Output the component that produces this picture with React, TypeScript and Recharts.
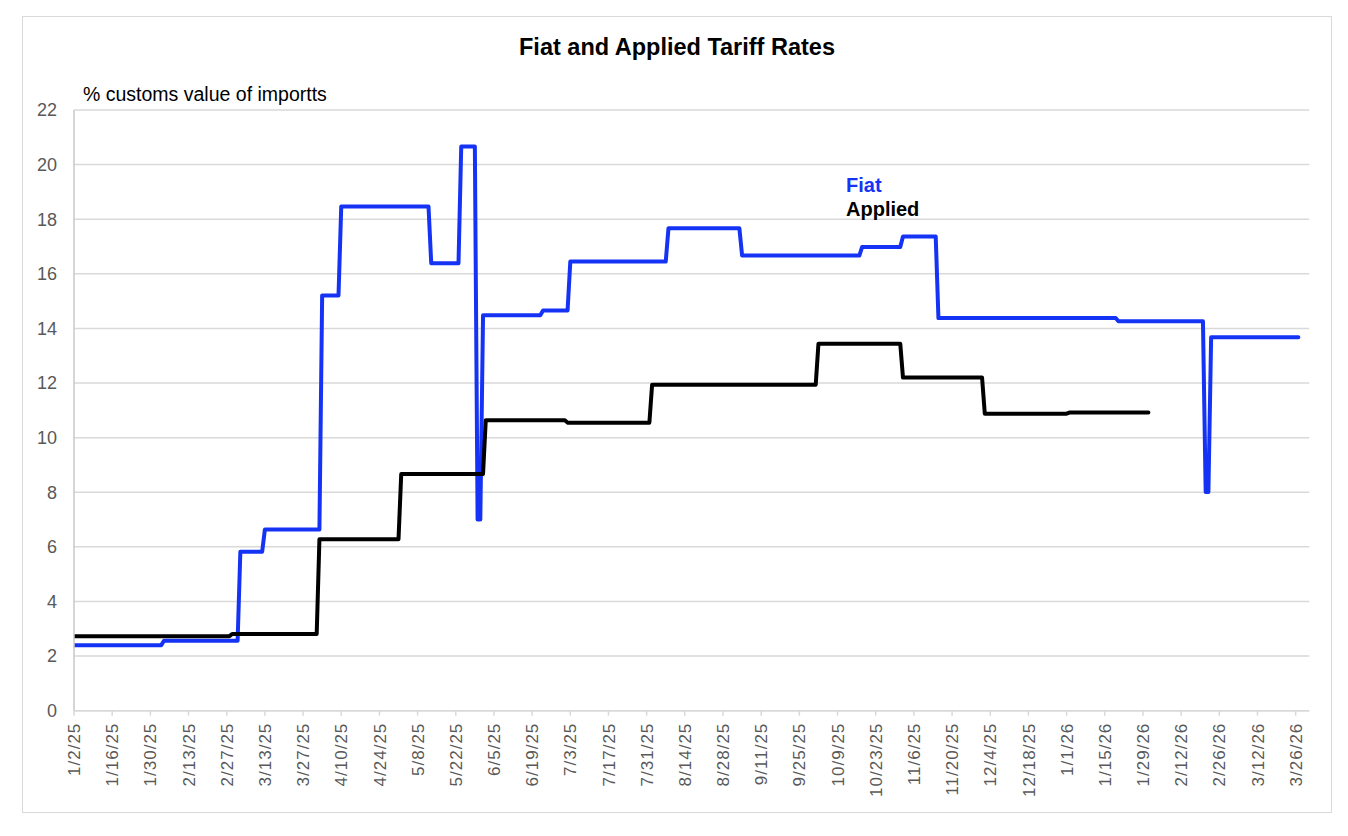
import React from "react";
import { LineChart, Line, XAxis, YAxis, CartesianGrid } from "recharts";

// Fiat tariff rate: dates where the rate changes, and the new rate (%)
const fiatDates = [
  "2025-01-02", "2025-02-04", "2025-03-04", "2025-03-13", "2025-04-03",
  "2025-04-10", "2025-05-13", "2025-05-24", "2025-05-30", "2025-06-01",
  "2025-06-23", "2025-07-03", "2025-08-08", "2025-09-04", "2025-10-18",
  "2025-11-02", "2025-11-15", "2026-01-20", "2026-02-21", "2026-02-23",
];
const fiatValues = [
  2.4, 2.56, 5.82, 6.64, 15.21,
  18.47, 16.39, 20.66, 7.0, 14.48,
  14.66, 16.45, 17.67, 16.67, 16.98,
  17.37, 14.38, 14.26, 8.01, 13.68,
];
const fiatEnd = "2026-03-27";

// Applied tariff rate
const appliedDates = [
  "2025-01-02", "2025-03-01", "2025-04-02", "2025-05-02", "2025-06-02",
  "2025-07-02", "2025-08-02", "2025-10-02", "2025-11-02", "2025-12-02",
  "2026-01-02",
];
const appliedValues = [
  2.73, 2.81, 6.28, 8.67, 10.64,
  10.55, 11.94, 13.44, 12.2, 10.88,
  10.92,
];
const appliedEnd = "2026-01-31";

const axisStart = "2025-01-02";
const axisEnd = "2026-03-31";
const tickStepDays = 14;
const yTicks = [0, 2, 4, 6, 8, 10, 12, 14, 16, 18, 20, 22];

const DAY = 86400000;
const toMs = (s: string) => {
  const [y, m, d] = s.split("-").map(Number);
  return Date.UTC(y, m - 1, d);
};
const base = toMs(axisStart);
const toDay = (s: string) => Math.round((toMs(s) - base) / DAY);
const fmt = (day: number) => {
  const dt = new Date(base + day * DAY);
  return `${dt.getUTCMonth() + 1}/${dt.getUTCDate()}/${String(dt.getUTCFullYear()).slice(2)}`;
};

// build daily step series (value holds until the day before the next change)
function stepPoints(dates: string[], values: number[], end: string) {
  const pts: { day: number; v: number }[] = [];
  dates.forEach((d, i) => {
    const day = toDay(d);
    if (i > 0) {
      const prev = pts[pts.length - 1];
      if (day - 1 > prev.day) pts.push({ day: day - 1, v: values[i - 1] });
    }
    pts.push({ day, v: values[i] });
  });
  pts.push({ day: toDay(end), v: values[values.length - 1] });
  return pts;
}

const fiatPts = stepPoints(fiatDates, fiatValues, fiatEnd);
const appliedPts = stepPoints(appliedDates, appliedValues, appliedEnd);

const rowMap = new Map<number, any>();
fiatPts.forEach((p) => {
  const r = rowMap.get(p.day) || { day: p.day };
  r.fiat = p.v;
  rowMap.set(p.day, r);
});
appliedPts.forEach((p) => {
  const r = rowMap.get(p.day) || { day: p.day };
  r.applied = p.v;
  rowMap.set(p.day, r);
});
const data = Array.from(rowMap.values()).sort((a, b) => a.day - b.day);

const maxDay = toDay(axisEnd);
const xTicks: number[] = [];
for (let d = 0; d <= maxDay; d += tickStepDays) xTicks.push(d);

const FONT = "'Liberation Sans', Arial, Helvetica, sans-serif";

const XTick = (props: any) => {
  const { x, y, payload } = props;
  return (
    <g transform={`translate(${x},${y})`}>
      <text
        x={0}
        y={0}
        dy="0.36em"
        textAnchor="end"
        transform="rotate(-90)"
        fill="#595959"
        fontSize={17}
        letterSpacing={1}
        fontFamily={FONT}
      >
        {fmt(payload.value)}
      </text>
    </g>
  );
};

export default function App() {
  return (
    <div style={{ position: "relative", width: 1332, height: 820, fontFamily: FONT, background: "#fff" }}>
      <div
        style={{
          position: "absolute",
          left: 14,
          top: 8,
          width: 1310,
          height: 797,
          border: "1.5px solid #d9d9d9",
          boxSizing: "border-box",
        }}
      />
      <div
        style={{
          position: "absolute",
          left: 0,
          top: 25,
          width: 1338,
          textAlign: "center",
          fontSize: 23.5,
          lineHeight: "28px",
          fontWeight: "bold",
          color: "#000",
        }}
      >
        Fiat and Applied Tariff Rates
      </div>
      <div
        style={{
          position: "absolute",
          left: 75,
          top: 75,
          fontSize: 19.5,
          lineHeight: "22px",
          color: "#000",
          whiteSpace: "nowrap",
        }}
      >
        % customs value of importts
      </div>
      <LineChart
        width={1332}
        height={820}
        data={data}
        margin={{ top: 102, right: 30.7, left: 16, bottom: 17.3 }}
      >
        <CartesianGrid horizontal={true} vertical={false} stroke="#d9d9d9" strokeWidth={1.5} />
        <XAxis
          dataKey="day"
          type="number"
          domain={[0, maxDay]}
          ticks={xTicks}
          interval={0}
          allowDataOverflow
          height={100}
          tickSize={5}
          tickMargin={7}
          tick={<XTick />}
          axisLine={{ stroke: "#d9d9d9", strokeWidth: 1.5 }}
          tickLine={{ stroke: "#d9d9d9", strokeWidth: 1.5 }}
        />
        <YAxis
          type="number"
          domain={[0, 22]}
          ticks={yTicks}
          interval={0}
          width={50}
          tickSize={0}
          tickMargin={17}
          tickLine={false}
          axisLine={{ stroke: "#c9c9c9", strokeWidth: 1.5 }}
          tick={{ fill: "#595959", fontSize: 18, fontFamily: FONT }}
        />
        <Line
          dataKey="fiat"
          type="linear"
          stroke="#1533F5"
          strokeWidth={4}
          dot={false}
          activeDot={false}
          connectNulls
          strokeLinejoin="round"
          strokeLinecap="round"
          isAnimationActive={false}
        />
        <Line
          dataKey="applied"
          type="linear"
          stroke="#000000"
          strokeWidth={4}
          dot={false}
          activeDot={false}
          connectNulls
          strokeLinejoin="round"
          strokeLinecap="round"
          isAnimationActive={false}
        />
      </LineChart>
      <div
        style={{
          position: "absolute",
          left: 838,
          top: 164.6,
          fontSize: 20,
          lineHeight: "24px",
          fontWeight: "bold",
          color: "#1533F5",
        }}
      >
        Fiat
      </div>
      <div
        style={{
          position: "absolute",
          left: 838,
          top: 188.6,
          fontSize: 20,
          lineHeight: "24px",
          fontWeight: "bold",
          color: "#000",
        }}
      >
        Applied
      </div>
    </div>
  );
}
